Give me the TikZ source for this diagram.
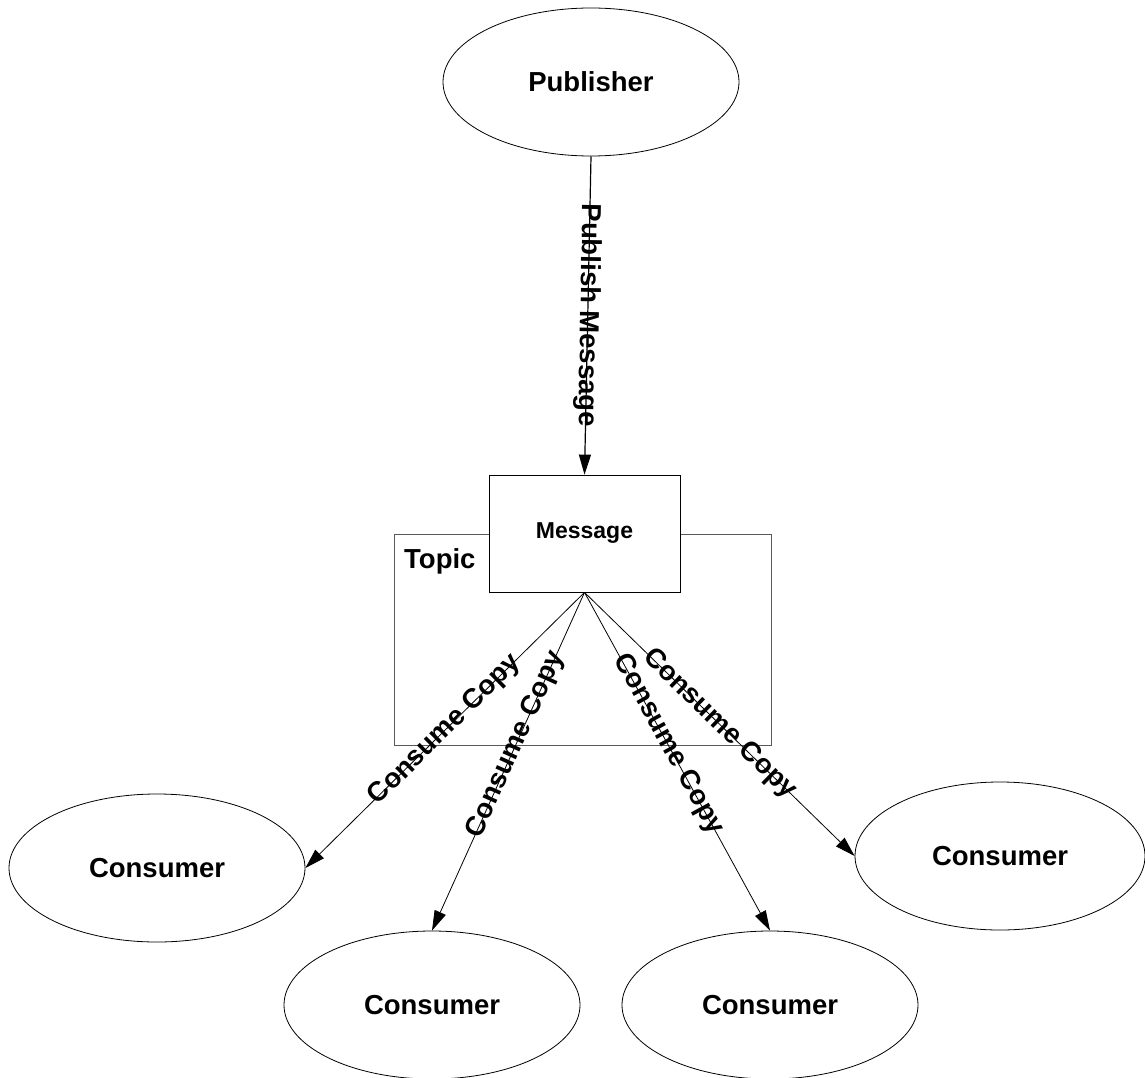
\documentclass[tikz,border=0pt]{standalone}
\usepackage{fontspec}
\setmainfont{Liberation Sans}
\usetikzlibrary{shapes.geometric,arrows.meta}

\begin{document}
\begin{tikzpicture}[x=1pt,y=-1pt,
  every node/.style={font=\bfseries\fontsize{27.5}{30}\selectfont},
  actor/.style={ellipse, draw, line width=0.8pt, minimum width=296pt,
    minimum height=148pt, inner sep=0pt},
  msgbox/.style={rectangle, draw, fill=white, line width=0.8pt,
    minimum width=191pt, minimum height=117pt,
    font=\bfseries\fontsize{23}{26}\selectfont},
  flow/.style={-{Triangle[length=20pt,width=12pt]}, line width=0.8pt},
  lbl/.style={sloped, inner sep=0pt}
]
\useasboundingbox (0,0) rectangle (1145,1078);

% topic container (behind the message box)
\draw[black!65, line width=1pt] (394,534) rectangle (771,745);
\node[anchor=base west, inner sep=0pt] (topic) at (404,568) {Topic};

% nodes
\node[actor] (pub) at (591,82) {Publisher};
\node[msgbox] (msg) at (584.5,533.5) {Message};
\node[actor] (c1) at (157,868) {Consumer};
\node[actor] (c2) at (432,1005) {Consumer};
\node[actor] (c3) at (770,1005) {Consumer};
\node[actor, minimum width=290pt] (c4) at (1000,856) {Consumer};

% publish
\draw[flow, line width=1.2pt] (pub.south) -- node[pos=0.5, rotate=-91, inner sep=0pt] {Publish Message} (msg.north);

% consume copies
\draw[flow] (msg.south) -- node[lbl, pos=0.5] {Consume Copy} (c1.east);
\draw[flow] (msg.south) -- node[lbl, pos=0.45] {Consume Copy} (c2.north);
\draw[flow] (msg.south) -- node[lbl, pos=0.45] {Consume Copy} (c3.north);
\draw[flow] (msg.south) -- node[lbl, pos=0.5] {Consume Copy} (c4.west);
\end{tikzpicture}
\end{document}
